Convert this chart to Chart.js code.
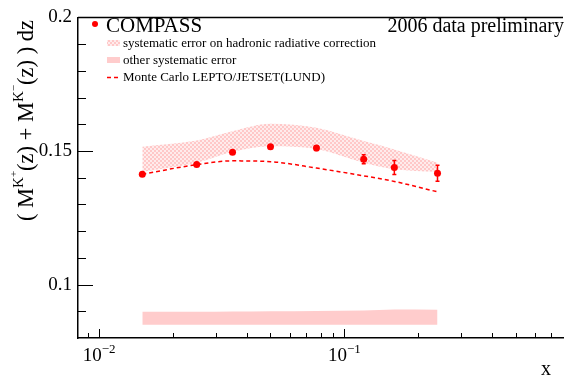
<!DOCTYPE html>
<html>
<head>
<meta charset="utf-8">
<script src="https://cdn.jsdelivr.net/npm/chart.js@4/dist/chart.umd.min.js"></script>
<style>
    html, body { margin: 0; padding: 0; background: #fff; }
</style>
</head>
<body>
<canvas id="chart" width="567" height="378"></canvas>
<script>
// Kaon multiplicity sum vs x (COMPASS 2006 preliminary)
const xValues = [0.015, 0.025, 0.035, 0.05, 0.077, 0.12, 0.16, 0.24];
const compassValues = [0.1413, 0.1449, 0.1495, 0.1516, 0.1511, 0.1469, 0.1438, 0.1417];
const statErrors = [0.0005, 0.0005, 0.0006, 0.0007, 0.0009, 0.0017, 0.0026, 0.0030];
const radCorrLow = [0.1422, 0.1456, 0.1497, 0.1518, 0.1507, 0.1456, 0.1432, 0.1422];
const radCorrHigh = [0.1516, 0.1539, 0.1574, 0.1602, 0.1587, 0.1537, 0.1506, 0.1456];
const otherSysBase = 0.085;
const otherSysHigh = [0.0898, 0.0898, 0.0899, 0.0900, 0.0901, 0.0903, 0.0907, 0.0906];
const monteCarloValues = [0.1413, 0.1449, 0.1463, 0.1460, 0.1436, 0.1407, 0.1386, 0.1347];

const yMajorTicks = [0.1, 0.15, 0.2];
const yTickLabels = ['0.1', '0.15', '0.2'];
const yMinorTicks = [0.09, 0.11, 0.12, 0.13, 0.14, 0.16, 0.17, 0.18, 0.19];
const xMajorTicks = [0.01, 0.1];
const xTickLabels = [['10', '\u22122'], ['10', '\u22121']];
const xMinorTicks = [0.009, 0.02, 0.03, 0.04, 0.05, 0.06, 0.07, 0.08, 0.09, 0.2, 0.3, 0.4, 0.5, 0.6, 0.7];

const RED = '#ff0000';
const PINK = 'rgb(255, 204, 204)';
const SERIF = "'Liberation Serif', 'Times New Roman', serif";

function toPoints(ys) {
    return xValues.map((x, i) => ({ x: x, y: ys[i] }));
}

// checker hatch like the ROOT fill style
function makeHatch() {
    const c = document.createElement('canvas');
    c.width = 4;
    c.height = 4;
    const g = c.getContext('2d');
    g.fillStyle = 'rgb(255, 236, 236)';
    g.fillRect(0, 0, 4, 4);
    g.fillStyle = 'rgb(255, 200, 200)';
    g.fillRect(0, 0, 2, 2);
    g.fillRect(2, 2, 2, 2);
    return g.createPattern(c, 'repeat');
}
const hatch = makeHatch();

// ROOT-like frame, inward ticks, rich-text labels, legend
const rootStyle = {
    id: 'rootStyle',
    afterDatasetsDraw(chart) {
        const ctx = chart.ctx;
        const xs = chart.scales.x;
        const ys = chart.scales.y;
        ctx.save();
        ctx.strokeStyle = RED;
        ctx.lineWidth = 1.5;
        xValues.forEach((x, i) => {
            const px = xs.getPixelForValue(x);
            const top = ys.getPixelForValue(compassValues[i] + statErrors[i]);
            const bot = ys.getPixelForValue(compassValues[i] - statErrors[i]);
            ctx.beginPath();
            ctx.moveTo(px, top);
            ctx.lineTo(px, bot);
            ctx.moveTo(px - 2, top);
            ctx.lineTo(px + 2, top);
            ctx.moveTo(px - 2, bot);
            ctx.lineTo(px + 2, bot);
            ctx.stroke();
        });
        ctx.restore();
    },
    afterDraw(chart) {
        const ctx = chart.ctx;
        const area = chart.chartArea;
        const xs = chart.scales.x;
        const ys = chart.scales.y;
        ctx.save();

        // top frame line
        ctx.strokeStyle = '#000';
        ctx.lineWidth = 1.5;
        ctx.beginPath();
        ctx.moveTo(area.left, area.top);
        ctx.lineTo(area.right, area.top);
        ctx.stroke();

        // inward ticks
        ctx.lineWidth = 1;
        ctx.beginPath();
        yMajorTicks.forEach(v => {
            const py = Math.round(ys.getPixelForValue(v)) + 0.5;
            ctx.moveTo(area.left, py);
            ctx.lineTo(area.left + 15, py);
        });
        yMinorTicks.forEach(v => {
            const py = Math.round(ys.getPixelForValue(v)) + 0.5;
            ctx.moveTo(area.left, py);
            ctx.lineTo(area.left + 8, py);
        });
        xMajorTicks.forEach(v => {
            const px = Math.round(xs.getPixelForValue(v)) + 0.5;
            ctx.moveTo(px, area.bottom);
            ctx.lineTo(px, area.bottom - 9);
        });
        xMinorTicks.forEach(v => {
            const px = Math.round(xs.getPixelForValue(v)) + 0.5;
            ctx.moveTo(px, area.bottom);
            ctx.lineTo(px, area.bottom - 5);
        });
        ctx.stroke();

        // x tick labels 10^n
        ctx.fillStyle = '#000';
        ctx.textBaseline = 'alphabetic';
        xMajorTicks.forEach((v, i) => {
            const px = xs.getPixelForValue(v);
            ctx.font = '19px ' + SERIF;
            const w1 = ctx.measureText(xTickLabels[i][0]).width;
            ctx.font = '13px ' + SERIF;
            const w2 = ctx.measureText(xTickLabels[i][1]).width;
            const start = px - (w1 + w2) / 2;
            ctx.font = '19px ' + SERIF;
            ctx.textAlign = 'left';
            ctx.fillText(xTickLabels[i][0], start, 361);
            ctx.font = '13px ' + SERIF;
            ctx.fillText(xTickLabels[i][1], start + w1, 353);
        });

        // x axis title
        ctx.font = '20px ' + SERIF;
        ctx.textAlign = 'right';
        ctx.fillText('x', 551, 375);

        // y axis title, rotated, aligned to the top of the axis
        const parts = [
            { t: '( M', s: 22.5, dy: 0 },
            { t: 'K', s: 15, dy: -10 },
            { t: '+', s: 11, dy: -16 },
            { t: '(z) + M', s: 22.5, dy: 0 },
            { t: 'K', s: 15, dy: -10 },
            { t: '\u2212', s: 11, dy: -16 },
            { t: '(z) ) dz', s: 22.5, dy: 0 }
        ];
        let total = 0;
        parts.forEach(p => {
            ctx.font = p.s + 'px ' + SERIF;
            p.w = ctx.measureText(p.t).width;
            total += p.w;
        });
        ctx.translate(33, 20 + total);
        ctx.rotate(-Math.PI / 2);
        ctx.textAlign = 'left';
        let cx = 0;
        parts.forEach(p => {
            ctx.font = p.s + 'px ' + SERIF;
            ctx.fillText(p.t, cx, p.dy);
            cx += p.w;
        });
        ctx.setTransform(1, 0, 0, 1, 0, 0);

        // legend
        const ds = chart.data.datasets;
        ctx.fillStyle = RED;
        ctx.beginPath();
        ctx.arc(95, 24, 3, 0, Math.PI * 2);
        ctx.fill();
        ctx.fillStyle = '#000';
        ctx.textAlign = 'left';
        ctx.font = '21px ' + SERIF;
        ctx.fillText(ds[0].label, 106, 32);

        ctx.fillStyle = hatch;
        ctx.fillRect(107, 40, 13, 6);
        ctx.fillStyle = PINK;
        ctx.fillRect(107, 57, 13, 6);
        ctx.strokeStyle = RED;
        ctx.lineWidth = 1.5;
        ctx.setLineDash([4, 3]);
        ctx.beginPath();
        ctx.moveTo(107, 77.5);
        ctx.lineTo(121, 77.5);
        ctx.stroke();
        ctx.setLineDash([]);

        ctx.fillStyle = '#000';
        ctx.font = '13px ' + SERIF;
        ctx.fillText(ds[1].label, 123, 47);
        ctx.fillText(ds[3].label, 123, 64);
        ctx.fillText(ds[4].label, 123, 81);

        ctx.font = '20px ' + SERIF;
        ctx.textAlign = 'right';
        ctx.fillText('2006 data preliminary', 564, 32);
        ctx.restore();
    }
};

const ctx = document.getElementById('chart').getContext('2d');
const chart = new Chart(ctx, {
    type: 'line',
    data: {
        datasets: [
            {
                label: 'COMPASS',
                data: toPoints(compassValues),
                showLine: false,
                pointRadius: 3.5,
                pointBackgroundColor: RED,
                pointBorderWidth: 0,
                order: 0
            },
            {
                label: 'systematic error on hadronic radiative correction',
                data: toPoints(radCorrHigh),
                borderWidth: 0,
                pointRadius: 0,
                backgroundColor: hatch,
                fill: '+1',
                cubicInterpolationMode: 'monotone',
                order: 3
            },
            {
                label: 'radcorr low',
                data: toPoints(radCorrLow),
                borderWidth: 0,
                pointRadius: 0,
                fill: false,
                cubicInterpolationMode: 'monotone',
                order: 4
            },
            {
                label: 'other systematic error',
                data: toPoints(otherSysHigh),
                borderWidth: 0,
                pointRadius: 0,
                backgroundColor: PINK,
                fill: { value: otherSysBase },
                cubicInterpolationMode: 'monotone',
                order: 5
            },
            {
                label: 'Monte Carlo LEPTO/JETSET(LUND)',
                data: toPoints(monteCarloValues),
                borderColor: RED,
                borderWidth: 1.5,
                borderDash: [4, 3],
                pointRadius: 0,
                fill: false,
                cubicInterpolationMode: 'monotone',
                order: 1
            }
        ]
    },
    options: {
        responsive: false,
        animation: false,
        layout: { padding: { top: 15, right: 0, left: 0, bottom: 0 } },
        plugins: {
            legend: { display: false },
            tooltip: { enabled: false }
        },
        scales: {
            x: {
                type: 'logarithmic',
                min: 0.0082,
                max: 0.78,
                ticks: { display: false },
                grid: { display: false, drawTicks: false },
                border: { color: '#000', width: 1.5 },
                afterFit: function(scale) { scale.height = 40; }
            },
            y: {
                type: 'linear',
                min: 0.08,
                max: 0.2,
                afterBuildTicks: function(scale) {
                    scale.ticks = yMajorTicks.map(v => ({ value: v }));
                },
                ticks: {
                    color: '#000',
                    padding: 6,
                    font: { family: SERIF, size: 19 },
                    callback: function(value, index) {
                        return yTickLabels[index];
                    }
                },
                grid: { display: false, drawTicks: false },
                border: { color: '#000', width: 1.5 },
                afterFit: function(scale) { scale.width = 78; }
            }
        }
    },
    plugins: [rootStyle]
});
</script>
</body>
</html>
